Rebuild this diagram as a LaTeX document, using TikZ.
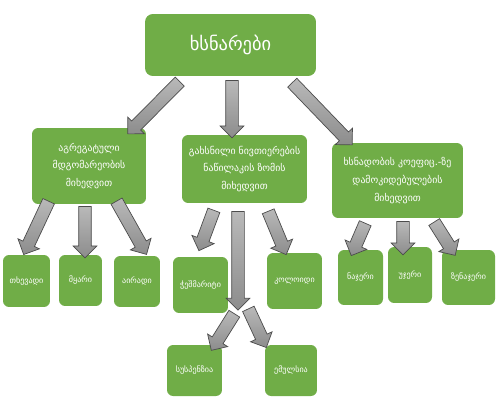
\documentclass[tikz,border=0pt]{standalone}
\usepackage{fontspec}
\newfontfamily\geofont{DejaVu Sans}
\usepackage{xcolor}
\usetikzlibrary{shapes.arrows,calc}
\definecolor{boxgreen}{HTML}{70AD47}

% block arrow between two points
\newcommand\blockarrow[2]{%
  \path let \p1=(#1), \p2=(#2), \n1={atan2(\y2-\y1,\x2-\x1)}, \n2={veclen(\x2-\x1,\y2-\y1)} in
    node[barrow,minimum height=\n2,rotate=\n1] at ($(\p1)!0.5!(\p2)$) {};}

\begin{document}
\begin{tikzpicture}[x=0.02cm,y=-0.02cm,
  box/.style={fill=boxgreen,rounded corners=3.5pt,text=white,align=center,inner sep=1pt,font=\geofont\fontsize{5.6}{10}\selectfont},
  leaf/.style={box,font=\geofont\fontsize{4.6}{6}\selectfont},
  barrow/.style={single arrow,draw=black!70,top color=gray!55,bottom color=gray!90,minimum width=0pt,inner xsep=0pt,inner ysep=0.12cm,single arrow head extend=0.11cm,line width=0.4pt}]
  \useasboundingbox (0,0) rectangle (500,409);
  % main boxes
  \node[box,minimum width=3.42cm,minimum height=1.24cm,rounded corners=4.5pt,font=\geofont\fontsize{10.5}{12}\selectfont] (solutions) at (230.5,45) {ხსნარები};
  \node[box,minimum width=2.28cm,minimum height=1.52cm] (aggstate) at (89,166) {აგრეგატული\\მდგომარეობის\\მიხედვით};
  \node[box,minimum width=2.5cm,minimum height=1.36cm] (partsize) at (244.5,169) {გახსნილი ნივთიერების\\ნაწილაკის ზომის\\მიხედვით};
  \node[box,minimum width=2.62cm,minimum height=1.5cm] (solubility) at (397.5,180.5) {ხსნადობის კოეფიც.-ზე\\დამოკიდებულების\\მიხედვით};
  % leaves
  \node[leaf,minimum width=0.94cm,minimum height=1.04cm] (liquid) at (26.5,281) {თხევადი};
  \node[leaf,minimum width=0.86cm,minimum height=1.02cm] (solid) at (80.5,280.5) {მყარი};
  \node[leaf,minimum width=0.92cm,minimum height=1.02cm] (gas) at (137,281.5) {აირადი};
  \node[leaf,minimum width=1.1cm,minimum height=1.12cm] (truesol) at (200.5,285) {ჭეშმარიტი};
  \node[leaf,minimum width=1.1cm,minimum height=1.12cm] (colloid) at (294.5,281) {კოლოიდი};
  \node[leaf,minimum width=1.1cm,minimum height=1.02cm] (suspension) at (194.5,370.5) {სუსპენზია};
  \node[leaf,minimum width=1.04cm,minimum height=1.02cm] (emulsion) at (291,370.5) {ემულსია};
  \node[leaf,minimum width=0.9cm,minimum height=1.1cm] (saturated) at (360.5,277.5) {ნაჯერი};
  \node[leaf,minimum width=0.88cm,minimum height=1.12cm] (unsaturated) at (410,275) {უჯერი};
  \node[leaf,minimum width=1.06cm,minimum height=1.1cm] (supersat) at (468.5,277.5) {ზენაჯერი};
  \coordinate (fork) at (238,307);
  % arrows
  \blockarrow{$(solutions.south)+(-48.5,3)$}{$(aggstate.north)+(41,4)$}
  \blockarrow{$(solutions.south)+(1.5,1)$}{$(partsize.north)+(-12.5,0)$}
  \blockarrow{$(solutions.south)+(59.5,4)$}{$(solubility.north)+(-47.5,0)$}
  \blockarrow{$(aggstate.south)+(-39,-6)$}{$(liquid.north)+(-1.5,-3)$}
  \blockarrow{$(aggstate.south)+(-4,-1)$}{$(solid.north)+(4.5,0)$}
  \blockarrow{$(aggstate.south)+(26,-6)$}{$(gas.north)+(8,-4)$}
  \blockarrow{$(partsize.south)+(-29.5,4)$}{$(truesol.north)+(-0.5,-9)$}
  \blockarrow{$(partsize.south)+(-6.5,5)$}{fork}
  \blockarrow{$(partsize.south)+(22.5,5)$}{$(colloid.north)+(-9.5,-1)$}
  \blockarrow{$(fork)+(-2,4)$}{$(suspension.north)+(18.5,3)$}
  \blockarrow{$(fork)+(9,-1)$}{$(emulsion.north)+(-26,0)$}
  \blockarrow{$(solubility.south)+(-31,2)$}{$(saturated.north)+(-8,3)$}
  \blockarrow{$(solubility.south)+(5.5,0)$}{$(unsaturated.north)+(-7,5)$}
  \blockarrow{$(solubility.south)+(35,1)$}{$(supersat.north)+(-15,3)$}
\end{tikzpicture}
\end{document}
